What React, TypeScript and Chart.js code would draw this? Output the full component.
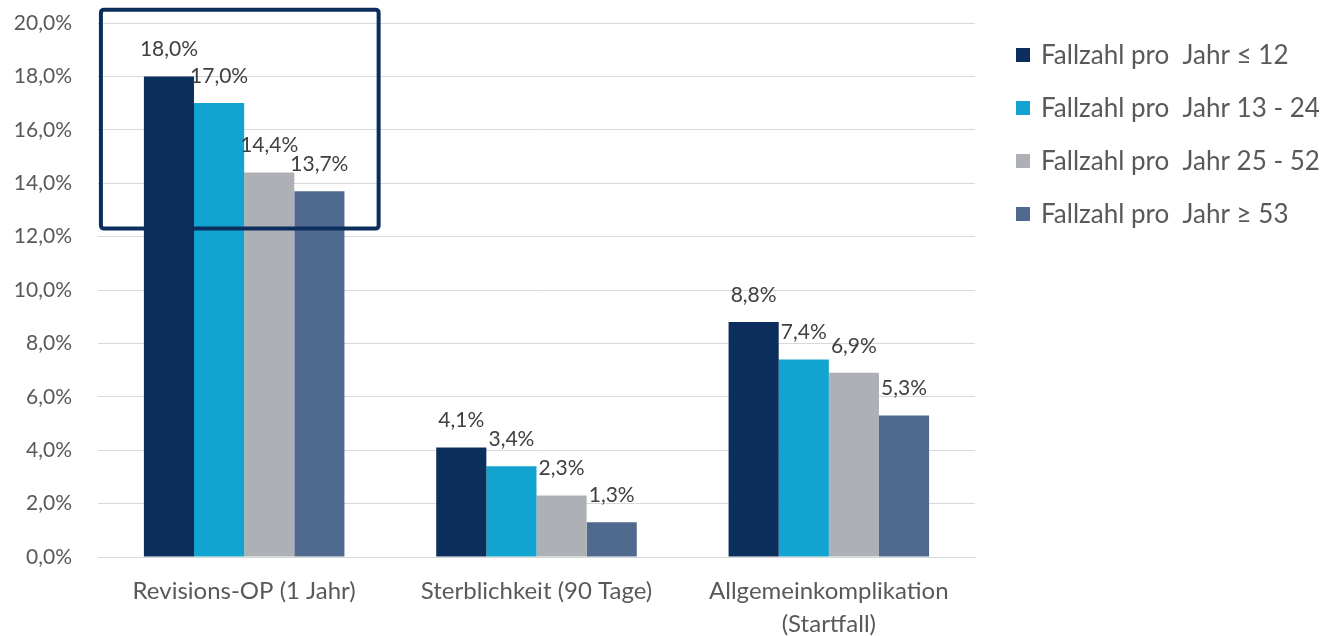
import React, { useEffect, useRef } from "react";
import { Chart, registerables } from "chart.js";

Chart.register(...registerables);

const categories: string[][] = [
  ["Revisions-OP (1 Jahr)"],
  ["Sterblichkeit (90 Tage)"],
  ["Allgemeinkomplikation", "(Startfall)"],
];
const seriesLabels = [
  "Fallzahl pro  Jahr ≤ 12",
  "Fallzahl pro  Jahr 13 - 24",
  "Fallzahl pro  Jahr 25 - 52",
  "Fallzahl pro  Jahr ≥ 53",
];
const seriesColors = ["#0c2e5c", "#13a3d0", "#adb1b5", "#50698e"];
const upTo12 = [18.0, 4.1, 8.8];
const from13to24 = [17.0, 3.4, 7.4];
const from25to52 = [14.4, 2.3, 6.9];
const from53 = [13.7, 1.3, 5.3];
const yTickMax = 20;
const yTickStep = 2;
// highlight box in data units: category index range and value range
const highlightBox = { xFrom: -0.49, xTo: 0.46, yFrom: 12.3, yTo: 20.5 };

const FONT = "Lato, 'Open Sans', sans-serif";
const fmt = (v: number) => v.toFixed(1).replace(".", ",") + "%";

const dataLabelPlugin = {
  id: "dataLabels",
  afterDatasetsDraw(chart: any) {
    const ctx = chart.ctx;
    ctx.save();
    ctx.font = `21px ${FONT}`;
    ctx.fillStyle = "#404040";
    ctx.textAlign = "center";
    ctx.textBaseline = "middle";
    chart.data.datasets.forEach((ds: any, di: number) => {
      const meta = chart.getDatasetMeta(di);
      meta.data.forEach((bar: any, i: number) => {
        ctx.fillText(fmt(ds.data[i]), bar.x, bar.y - 27);
      });
    });
    ctx.restore();
  },
};

const boxPlugin = {
  id: "highlightBox",
  afterDatasetsDraw(chart: any) {
    const { ctx, scales } = chart;
    const x = scales.x;
    const y = scales.y;
    const c0 = x.getPixelForValue(0);
    const c1 = x.getPixelForValue(1);
    const w = c1 - c0;
    const left = c0 + highlightBox.xFrom * w;
    const right = c0 + highlightBox.xTo * w;
    const top = y.getPixelForValue(highlightBox.yTo);
    const bottom = y.getPixelForValue(highlightBox.yFrom);
    ctx.save();
    ctx.strokeStyle = "#0c2e5c";
    ctx.lineWidth = 4;
    ctx.beginPath();
    (ctx as any).roundRect(left, top, right - left, bottom - top, 3);
    ctx.stroke();
    ctx.restore();
  },
};

const legendPlugin = {
  id: "customLegend",
  afterDraw(chart: any) {
    const { ctx, chartArea } = chart;
    ctx.save();
    ctx.font = `26px ${FONT}`;
    ctx.textBaseline = "middle";
    ctx.textAlign = "left";
    chart.data.datasets.forEach((ds: any, i: number) => {
      const cy = chartArea.top + 32 + i * 53;
      const bx = chartArea.right + 41;
      ctx.fillStyle = ds.backgroundColor;
      ctx.fillRect(bx, cy - 7, 14, 14);
      ctx.fillStyle = "#595959";
      ctx.fillText(ds.label, bx + 25, cy + 1);
    });
    ctx.restore();
  },
};

export default function App() {
  const ref = useRef<HTMLCanvasElement>(null);
  useEffect(() => {
    if (!ref.current) return;
    const values = [upTo12, from13to24, from25to52, from53];
    const chart = new Chart(ref.current, {
      type: "bar",
      data: {
        labels: categories,
        datasets: values.map((d, i) => ({
          label: seriesLabels[i],
          data: d,
          backgroundColor: seriesColors[i],
          categoryPercentage: 0.686,
          barPercentage: 1,
        })),
      },
      options: {
        animation: false,
        responsive: false,
        layout: { padding: { top: 23, right: 355, left: 0, bottom: 0 } },
        plugins: { legend: { display: false }, tooltip: { enabled: false } },
        scales: {
          x: {
            grid: { display: false, drawTicks: false },
            border: { display: true, color: "#d9d9d9", width: 1 },
            ticks: {
              color: "#595959",
              font: { family: FONT, size: 24, lineHeight: "33px" as any },
              padding: 18,
              maxRotation: 0,
            },
            afterFit(scale: any) {
              scale.height = 79;
              scale.paddingLeft = 0;
              scale.paddingRight = 0;
            },
          },
          y: {
            min: 0,
            max: yTickMax,
            border: { display: false },
            grid: { color: "#d9d9d9", drawTicks: false },
            ticks: {
              stepSize: yTickStep,
              color: "#595959",
              font: { family: FONT, size: 21 },
              padding: 26,
              callback: (v: any) => fmt(Number(v)),
            },
            afterFit(scale: any) {
              scale.width = 98;
              scale.paddingTop = 0;
              scale.paddingBottom = 0;
            },
          },
        },
      },
      plugins: [dataLabelPlugin, boxPlugin, legendPlugin],
    });
    return () => chart.destroy();
  }, []);
  return (
    <div style={{ position: "absolute", left: 0, top: 0, width: 1330, height: 636, background: "#fff" }}>
      <canvas ref={ref} width={1330} height={636} />
    </div>
  );
}
